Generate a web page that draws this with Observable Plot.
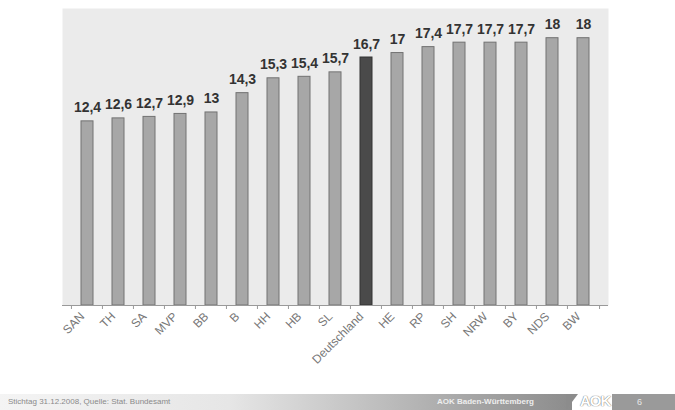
<!DOCTYPE html>
<html><head><meta charset="utf-8">
<script src="https://cdn.jsdelivr.net/npm/d3@7"></script>
<script src="https://cdn.jsdelivr.net/npm/@observablehq/plot@0.6"></script>
<style>
body{margin:0;background:#fff;font-family:"Liberation Sans",Arial,sans-serif;}
#wrap{width:675px;}
#footer{position:relative;height:18px;width:675px;overflow:hidden;}
#band1{position:absolute;left:0;top:2px;width:572px;height:16px;background:linear-gradient(90deg,#f4f4f4 0%,#e6e6e6 40%,#a9a9a9 80%,#8c8c8c 100%);}
#band2{position:absolute;left:612px;top:2px;width:63px;height:16px;background:#9a9a9a;}
#slash{position:absolute;left:566px;top:2px;width:0;height:0;border-left:12px solid #8c8c8c;border-bottom:16px solid transparent;}
#src{position:absolute;left:8px;top:5px;font-size:8px;color:#8a8a8a;}
#org{position:absolute;left:437px;top:5px;font-size:8px;font-weight:bold;color:#eee;}
#logo{position:absolute;left:580px;top:0px;font-size:15px;font-weight:bold;color:#fff;text-shadow:0 0 1px #777,0 0 1px #777;letter-spacing:-1px;}
#page{position:absolute;left:637px;top:5px;font-size:9px;color:#e8e8e8;}
</style></head><body><div id="wrap"></div>
<div id="footer"><div id="band1"></div><div id="slash"></div><div id="band2"></div>
<span id="src">Stichtag 31.12.2008, Quelle: Stat. Bundesamt</span>
<span id="org">AOK Baden-Württemberg</span>
<span id="logo">AOK</span><span id="page">6</span></div>
<script>
const states = ["SAN","TH","SA","MVP","BB","B","HH","HB","SL","Deutschland","HE","RP","SH","NRW","BY","NDS","BW"];
const values = [12.4,12.6,12.7,12.9,13,14.3,15.3,15.4,15.7,16.7,17,17.4,17.7,17.7,17.7,18,18];
const highlight = "Deutschland";
const data = states.map((s,i)=>({state:s,value:values[i]}));
const fmt = v => String(v).replace(".", ",");
const W = 675, ML = 62, MR = 67;
const step = (W - ML - MR) / states.length;

const chart = Plot.plot({
  width: W, height: 392,
  marginTop: 8, marginBottom: 87, marginLeft: ML, marginRight: MR,
  style: {fontFamily: "'Liberation Sans', Arial, sans-serif", background: "#fff"},
  x: {domain: states, padding: 0.6, label: null},
  y: {domain: [0, 20], axis: null},
  marks: [
    Plot.frame({fill: "#ebebeb", stroke: null}),
    Plot.barY(data, {x: "state", y: "value",
      fill: d => d.state === highlight ? "#4a4a4a" : "#a7a7a7",
      stroke: d => d.state === highlight ? "#333" : "#727272", strokeWidth: 1}),
    Plot.text(data, {x: "state", y: "value", text: d => fmt(d.value),
      lineAnchor: "bottom", dy: -9, fontWeight: "bold", fontSize: 14,
      fill: "#333"}),
    Plot.ruleY([0], {stroke: "#999"}),
    Plot.axisX({tickSize: 4, tickFormat: () => "", dx: -step / 2, stroke: "#999"}),
    Plot.ruleX([states[states.length - 1]], {x: d => d, y1: 0, y2: 0, insetBottom: -4, dx: step / 2, stroke: "#999"}),
    Plot.axisX({tickSize: 0, tickRotate: -45, tickPadding: 5, dx: -5, dy: 4, fontSize: 12, fill: "#777", label: null})
  ]
});
document.getElementById("wrap").appendChild(chart);
</script></body></html>
